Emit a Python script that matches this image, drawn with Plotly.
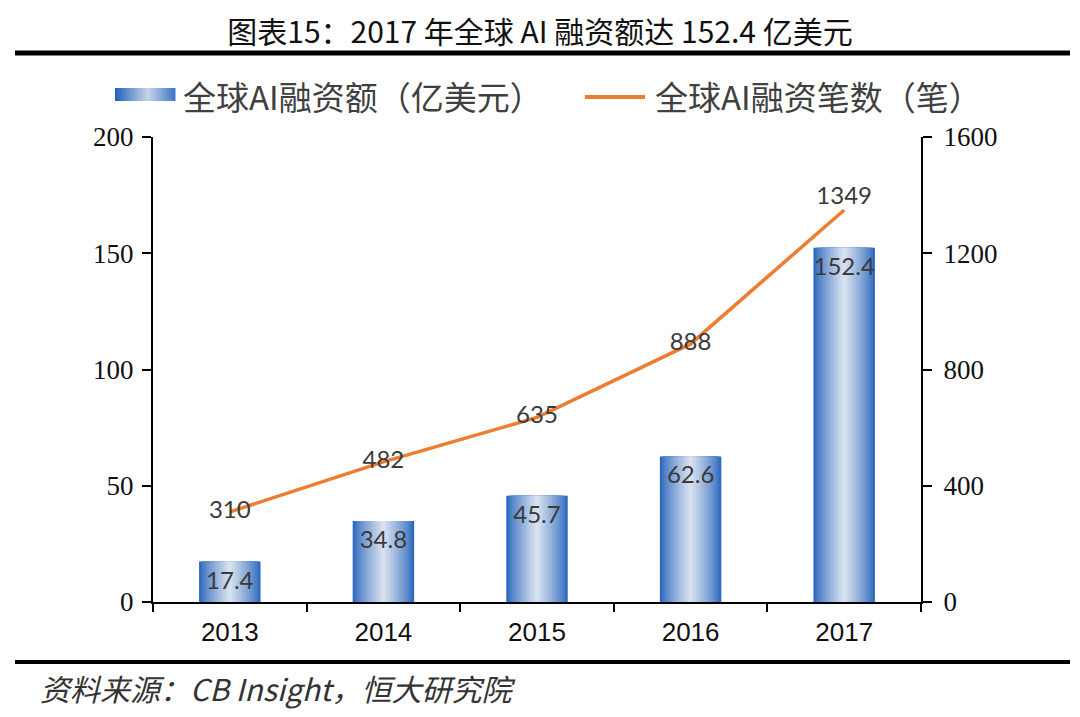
import plotly.graph_objects as go

years = ["2013", "2014", "2015", "2016", "2017"]
amount = [17.4, 34.8, 45.7, 62.6, 152.4]          # 亿美元
deals = [310, 482, 635, 888, 1349]               # 笔
amount_labels = ["17.4", "34.8", "45.7", "62.6", "152.4"]
deal_labels = ["310", "482", "635", "888", "1349"]
bar_name = "全球AI融资额（亿美元）"
line_name = "全球AI融资笔数（笔）"
title_text = "图表15：2017 年全球 AI 融资额达 152.4 亿美元"
source_text = "资料来源：CB Insight，恒大研究院"

CJK = "Noto Sans CJK SC"
NUMFONT = "Lato, Liberation Sans"
edge = (44, 104, 190)
center = (214, 224, 238)
N = 16
BAR_W = 0.40

# plot-area geometry in pixels (used to place non-data decorations)
L, R, T, B = 153, 921, 137, 602
def px(x):
    return (x - L) / (R - L)
def py(y):
    return (B - y) / (B - T)

def mix(a, b, t):
    return "rgb(%d,%d,%d)" % tuple(int(a[i] + (b[i] - a[i]) * t) for i in range(3))

fig = go.Figure()
for k in range(N):
    t = (k / (N - 1)) ** 0.8
    fig.add_trace(go.Bar(
        x=years, y=amount, width=BAR_W * (1 - k / N),
        marker=dict(color=mix(edge, center, t), line=dict(width=0)),
        showlegend=False, hoverinfo="skip", yaxis="y"))

# transparent bar carrying the value labels
fig.add_trace(go.Bar(
    x=years, y=amount, width=BAR_W, name=bar_name,
    marker=dict(color="rgba(0,0,0,0)", line=dict(width=0)),
    text=amount_labels, textposition="inside", insidetextanchor="end",
    textangle=0,
    textfont=dict(family=NUMFONT, size=24, color="#3a3a3a"),
    constraintext="none", showlegend=False, yaxis="y"))

fig.add_trace(go.Scatter(
    x=years, y=deals, name=line_name, yaxis="y2", mode="lines+text",
    line=dict(color="#ED7D31", width=3.5),
    text=deal_labels,
    textposition=["middle center"] * 4 + ["top center"],
    textfont=dict(family=NUMFONT, size=24, color="#3a3a3a"),
    showlegend=False))

# ---- manual legend (swatches + text) ----
shapes = []
sw_x0, sw_x1, sw_y0, sw_y1 = 115, 175, 88, 101
steps = 30
dark = (40, 100, 190)
light = (200, 212, 232)
mid = (70, 120, 200)
for i in range(steps):
    t = i / (steps - 1)
    if t < 0.55:
        c = mix(dark, light, t / 0.55)
    else:
        c = mix(light, mid, (t - 0.55) / 0.45)
    xa = sw_x0 + (sw_x1 - sw_x0) * i / steps
    xb = sw_x0 + (sw_x1 - sw_x0) * (i + 1) / steps + 0.5
    shapes.append(dict(type="rect", xref="paper", yref="paper",
                       x0=px(xa), x1=px(xb), y0=py(sw_y1), y1=py(sw_y0),
                       fillcolor=c, line=dict(width=0), layer="above"))
shapes.append(dict(type="line", xref="paper", yref="paper",
                   x0=px(585), x1=px(645), y0=py(97), y1=py(97),
                   line=dict(color="#ED7D31", width=4)))
# rules
shapes.append(dict(type="line", xref="paper", yref="paper",
                   x0=px(15), x1=px(1070), y0=py(53), y1=py(53),
                   line=dict(color="black", width=5)))
shapes.append(dict(type="line", xref="paper", yref="paper",
                   x0=px(15), x1=px(1070), y0=py(662), y1=py(662),
                   line=dict(color="black", width=4)))

annotations = [
    dict(text=bar_name, xref="paper", yref="paper", x=px(181), y=py(96),
         xanchor="left", yanchor="middle", showarrow=False,
         font=dict(family=CJK, size=33, color="#404040")),
    dict(text=line_name, xref="paper", yref="paper", x=px(653), y=py(96),
         xanchor="left", yanchor="middle", showarrow=False,
         font=dict(family=CJK, size=33, color="#404040")),
    dict(text=source_text, xref="paper", yref="paper",
         x=px(38), y=py(688), xanchor="left", yanchor="middle",
         showarrow=False,
         font=dict(family=CJK, size=30, color="#333333", style="italic")),
]

fig.update_layout(
    width=1080, height=717,
    paper_bgcolor="white", plot_bgcolor="white",
    margin=dict(l=L, r=1080 - R, t=T, b=717 - B, autoexpand=False),
    barmode="overlay",
    showlegend=False,
    title=dict(text=title_text, x=0.5, xanchor="center", xref="container",
               y=1 - 32 / 717, yref="container", yanchor="middle",
               font=dict(family=CJK, size=30, color="#111111")),
    xaxis=dict(type="category", tickson="boundaries", ticks="outside",
               ticklen=8, tickwidth=2, tickcolor="black",
               showline=True, linecolor="black", linewidth=2,
               showgrid=False, zeroline=False, automargin=False,
               ticklabelstandoff=6,
               tickfont=dict(family="Liberation Sans", size=26, color="#111111")),
    yaxis=dict(range=[0, 200], dtick=50, ticks="outside", ticklen=9,
               tickwidth=2, tickcolor="black", showline=True,
               linecolor="black", linewidth=2, showgrid=False, zeroline=False,
               automargin=False, ticklabelstandoff=3,
               tickfont=dict(family="Liberation Serif", size=27, color="#111111")),
    yaxis2=dict(range=[0, 1600], dtick=400, overlaying="y", side="right",
                ticks="outside", ticklen=9, tickwidth=2, tickcolor="black",
                showline=True, linecolor="black", linewidth=2,
                showgrid=False, zeroline=False, automargin=False,
                ticklabelstandoff=6,
                tickfont=dict(family="Liberation Serif", size=27, color="#111111")),
    shapes=shapes,
    annotations=annotations,
)

fig.write_html("out.html")
